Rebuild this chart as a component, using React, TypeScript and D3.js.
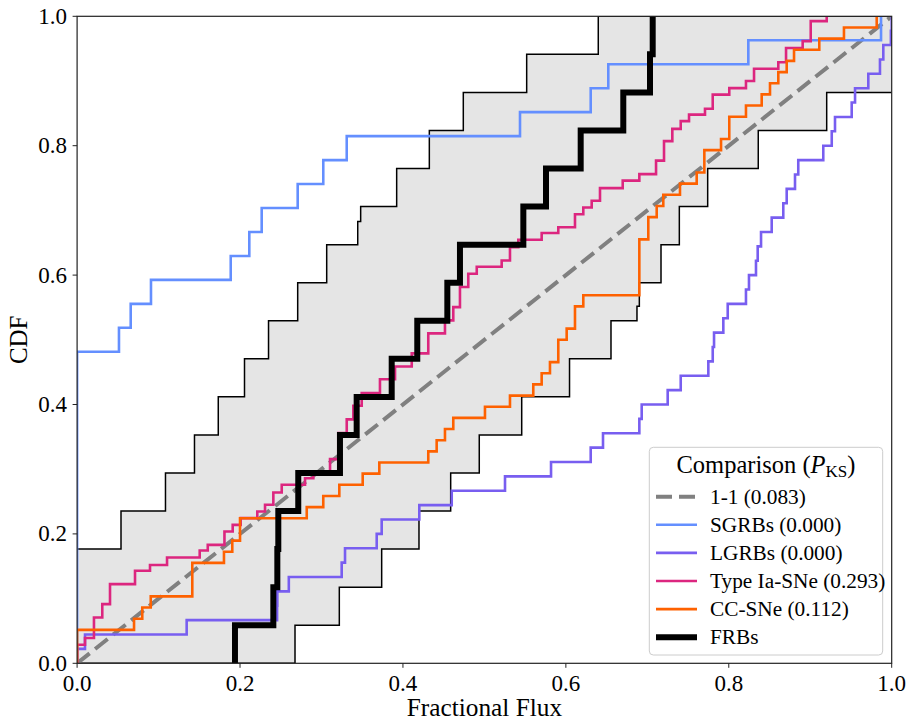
import React from 'react';
import * as d3 from 'd3';

const W = 908;
const H = 722;
const PLOT = { left: 77.1, right: 891.7, top: 16.3, bottom: 663.3 };

const xTicks = [0, 0.2, 0.4, 0.6, 0.8, 1.0];
const yTicks = [0, 0.2, 0.4, 0.6, 0.8, 1.0];

// FRB fractional fluxes (N = 17)
const frbFlux = [0.1938, 0.2409, 0.2458, 0.247, 0.2715, 0.3227, 0.3432, 0.3862, 0.4176, 0.4545, 0.47, 0.5478, 0.5756, 0.6182, 0.6705, 0.7033, 0.7066];

// SGRB fractional fluxes (N = 27)
const sgrbFlux = [0, 0, 0, 0, 0, 0, 0, 0, 0, 0, 0, 0, 0, 0.0514, 0.0658, 0.0907, 0.1886, 0.2114, 0.2266, 0.2708, 0.3022, 0.331, 0.5437, 0.6305, 0.6521, 0.824, 0.9869];

// LGRB fractional fluxes (N = 45)
const lgrbFlux = [0, 0.0097, 0.1345, 0.2455, 0.2458, 0.2599, 0.3248, 0.3289, 0.3678, 0.3739, 0.4201, 0.4599, 0.5253, 0.5818, 0.6305, 0.6456, 0.6902, 0.6931, 0.725, 0.741, 0.7749, 0.7803, 0.7819, 0.7933, 0.7987, 0.8211, 0.8248, 0.8334, 0.8355, 0.8396, 0.8527, 0.8669, 0.8711, 0.8813, 0.8853, 0.916, 0.9264, 0.9304, 0.9509, 0.955, 0.9713, 0.9856, 0.9897, 0.999, 1.0];

// CC-SNe fractional fluxes (N = 58)
const ccFlux = [0, 0, 0, 0.0699, 0.08, 0.0904, 0.1414, 0.1414, 0.1414, 0.1803, 0.1905, 0.2, 0.2, 0.2819, 0.3022, 0.3219, 0.3506, 0.371, 0.4311, 0.4414, 0.4516, 0.4618, 0.5007, 0.5314, 0.56, 0.5703, 0.5805, 0.5907, 0.5907, 0.601, 0.6112, 0.6112, 0.6214, 0.6902, 0.6902, 0.6902, 0.6902, 0.6902, 0.7012, 0.7012, 0.7115, 0.7196, 0.7401, 0.7606, 0.77, 0.77, 0.7905, 0.8006, 0.8006, 0.8211, 0.8404, 0.8506, 0.8608, 0.8711, 0.8801, 0.9111, 0.9414, 0.9816];

// Type Ia-SNe CDF steps (flux where step occurs, CDF level after step)
const iaFlux = [0, 0.0097, 0.0207, 0.0309, 0.0404, 0.0711, 0.0895, 0.1104, 0.1505, 0.1604, 0.1809, 0.191, 0.2008, 0.2212, 0.2307, 0.2409, 0.2512, 0.2798, 0.29, 0.3105, 0.3206, 0.331, 0.3391, 0.3494, 0.3718, 0.3903, 0.4108, 0.4311, 0.4516, 0.4618, 0.47, 0.4802, 0.4906, 0.5212, 0.5314, 0.5416, 0.5703, 0.5907, 0.6112, 0.6214, 0.6317, 0.6419, 0.6698, 0.6902, 0.7107, 0.7205, 0.7307, 0.741, 0.7512, 0.7708, 0.7803, 0.8006, 0.8211, 0.831, 0.8608, 0.8703, 0.8907, 0.9006, 0.9202];
const iaCdf = [0.0286, 0.039, 0.0708, 0.0915, 0.1224, 0.143, 0.152, 0.1635, 0.1743, 0.183, 0.2037, 0.214, 0.2244, 0.2346, 0.245, 0.264, 0.276, 0.286, 0.296, 0.3156, 0.356, 0.377, 0.398, 0.4176, 0.439, 0.4587, 0.479, 0.51, 0.53, 0.5505, 0.5815, 0.602, 0.613, 0.6226, 0.643, 0.6546, 0.665, 0.674, 0.694, 0.7045, 0.715, 0.7345, 0.746, 0.756, 0.777, 0.807, 0.826, 0.838, 0.848, 0.857, 0.879, 0.889, 0.9, 0.919, 0.929, 0.951, 0.9617, 0.9926, 1.0];

// FRB confidence envelope (upper / lower step curves)
const upperFlux = [0, 0.0539, 0.1085, 0.1441, 0.1733, 0.2055, 0.235, 0.2708, 0.3064, 0.3445, 0.3481, 0.3923, 0.4324, 0.4741, 0.5519, 0.6398];
const upperCdf = [0.1765, 0.2353, 0.2941, 0.3529, 0.4118, 0.4706, 0.5294, 0.5882, 0.6471, 0.683, 0.7059, 0.7647, 0.8235, 0.8824, 0.9412, 1.0];
const lowerFlux = [0, 0.2675, 0.3219, 0.3739, 0.4197, 0.4586, 0.4937, 0.5458, 0.6045, 0.6554, 0.6873, 0.6902, 0.7168, 0.7393, 0.7741, 0.8362, 0.9202];
const lowerCdf = [0, 0.0588, 0.1176, 0.1765, 0.2353, 0.2941, 0.3529, 0.4118, 0.4706, 0.5294, 0.552, 0.5882, 0.6471, 0.7059, 0.7647, 0.8235, 0.8824];

const legendLabels = ['1-1 (0.083)', 'SGRBs (0.000)', 'LGRBs (0.000)', 'Type Ia-SNe (0.293)', 'CC-SNe (0.112)', 'FRBs'];
const colors = { one: '#808080', sgrb: '#648FFF', lgrb: '#785EF0', ia: '#DC267F', cc: '#FE6100', frb: '#000000' };

type Pt = [number, number];

function ecdf(samples: number[]): { xs: number[]; ys: number[] } {
  const s = [...samples].sort((a, b) => a - b);
  const n = s.length;
  const xs: number[] = [];
  const ys: number[] = [];
  s.forEach((v, i) => {
    if (xs.length && xs[xs.length - 1] === v) ys[ys.length - 1] = (i + 1) / n;
    else { xs.push(v); ys.push((i + 1) / n); }
  });
  return { xs, ys };
}

function stepVerts(xs: number[], ys: number[], base: number, xEnd?: number): Pt[] {
  const pts: Pt[] = [[xs[0], base]];
  for (let i = 0; i < xs.length; i++) {
    if (i > 0) pts.push([xs[i], ys[i - 1]]);
    pts.push([xs[i], ys[i]]);
  }
  if (xEnd !== undefined) pts.push([xEnd, ys[ys.length - 1]]);
  return pts;
}

const FONT = '"Liberation Serif", "DejaVu Serif", serif';

export default function App() {
  const x = d3.scaleLinear().domain([0, 1]).range([PLOT.left, PLOT.right]);
  const y = d3.scaleLinear().domain([0, 1]).range([PLOT.bottom, PLOT.top]);
  const line = d3.line<Pt>().x((d) => x(d[0])).y((d) => y(d[1]));

  const upperV = stepVerts(upperFlux, upperCdf, upperCdf[0], 1);
  const lowerV = stepVerts(lowerFlux, lowerCdf, 0, 1);
  const bandPoly = [...upperV, ...[...lowerV].reverse()];

  const sg = ecdf(sgrbFlux);
  const lg = ecdf(lgrbFlux);
  const cc = ecdf(ccFlux);
  const fr = ecdf(frbFlux);

  const series = [
    { key: 'sgrb', verts: stepVerts(sg.xs, sg.ys, 0), color: colors.sgrb, w: 2.6 },
    { key: 'lgrb', verts: stepVerts(lg.xs, lg.ys, 0), color: colors.lgrb, w: 2.6 },
    { key: 'ia', verts: stepVerts(iaFlux, iaCdf, 0), color: colors.ia, w: 2.6 },
    { key: 'cc', verts: stepVerts(cc.xs, cc.ys, 0), color: colors.cc, w: 2.6 },
  ];
  const frbVerts = stepVerts(fr.xs, fr.ys, 0);

  const legX = 649.3, legY = 447.3, legW = 233.4, legH = 207.7;
  const rowY = (i: number) => 496.7 + i * 28.1;
  const legendItems = [
    { color: colors.one, w: 4, dash: '16,7' },
    { color: colors.sgrb, w: 2.6 },
    { color: colors.lgrb, w: 2.6 },
    { color: colors.ia, w: 2.6 },
    { color: colors.cc, w: 2.6 },
    { color: colors.frb, w: 6 },
  ];

  return (
    <svg width={W} height={H} style={{ position: 'absolute', left: 0, top: 0, background: '#fff' }} fontFamily={FONT}>
      <defs>
        <clipPath id="plotClip">
          <rect x={PLOT.left} y={PLOT.top} width={PLOT.right - PLOT.left} height={PLOT.bottom - PLOT.top} />
        </clipPath>
      </defs>
      <rect x={0} y={0} width={W} height={H} fill="#fff" />
      <g clipPath="url(#plotClip)">
        <path d={line(bandPoly) || ''} fill="#e5e5e5" stroke="none" />
        <path d={line(upperV) || ''} fill="none" stroke="#000" strokeWidth={1.5} />
        <path d={line(lowerV) || ''} fill="none" stroke="#000" strokeWidth={1.5} />
        <path d={line([[0, 0], [1, 1]]) || ''} fill="none" stroke={colors.one} strokeWidth={4} strokeDasharray="16,7" />
        {series.map((s) => (
          <path key={s.key} d={line(s.verts) || ''} fill="none" stroke={s.color} strokeWidth={s.w} strokeLinejoin="miter" />
        ))}
        <path d={line(frbVerts) || ''} fill="none" stroke={colors.frb} strokeWidth={6} strokeLinejoin="miter" />
      </g>
      {/* spines */}
      <rect x={PLOT.left} y={PLOT.top} width={PLOT.right - PLOT.left} height={PLOT.bottom - PLOT.top} fill="none" stroke="#222" strokeWidth={1.2} />
      {/* x ticks */}
      {xTicks.map((t) => (
        <g key={'x' + t}>
          <line x1={x(t)} x2={x(t)} y1={PLOT.bottom} y2={PLOT.bottom + 4.5} stroke="#222" strokeWidth={1} />
          <text x={x(t)} y={691} textAnchor="middle" fontSize={23}>{t.toFixed(1)}</text>
        </g>
      ))}
      {yTicks.map((t) => (
        <g key={'y' + t}>
          <line x1={PLOT.left - 4.5} x2={PLOT.left} y1={y(t)} y2={y(t)} stroke="#222" strokeWidth={1} />
          <text x={67} y={y(t) + 7.5} textAnchor="end" fontSize={23}>{t.toFixed(1)}</text>
        </g>
      ))}
      <text x={(PLOT.left + PLOT.right) / 2} y={716} textAnchor="middle" fontSize={25.3}>Fractional Flux</text>
      <text transform={`translate(27, ${(PLOT.top + PLOT.bottom) / 2}) rotate(-90)`} textAnchor="middle" fontSize={25}>CDF</text>
      {/* legend */}
      <rect x={legX} y={legY} width={legW} height={legH} rx={4} ry={4} fill="#fff" fillOpacity={0.8} stroke="#ccc" strokeWidth={1} />
      <text x={legX + legW / 2} y={473} textAnchor="middle" fontSize={24.5}>
        Comparison (<tspan fontStyle="italic">P</tspan>
        <tspan fontSize={17} dy={4}>KS</tspan>
        <tspan dy={-4}>)</tspan>
      </text>
      {legendItems.map((it, i) => (
        <g key={'leg' + i}>
          <line x1={656} x2={697} y1={rowY(i)} y2={rowY(i)} stroke={it.color} strokeWidth={it.w} strokeDasharray={it.dash} />
          <text x={710} y={rowY(i) + 7} fontSize={21.3}>{legendLabels[i]}</text>
        </g>
      ))}
    </svg>
  );
}
